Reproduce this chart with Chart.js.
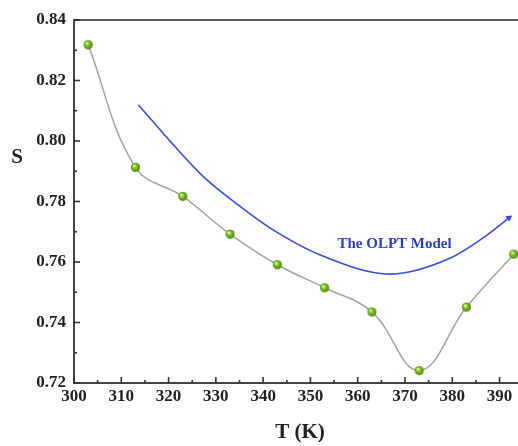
<!DOCTYPE html>
<html>
<head>
<meta charset="utf-8">
<script src="https://cdn.jsdelivr.net/npm/chart.js@4/dist/chart.umd.min.js"></script>
<style>
  html, body { margin: 0; padding: 0; background: #fff; overflow: hidden; }
  #wrap { width: 518px; height: 446px; }
</style>
</head>
<body>
<div id="wrap"><canvas id="s-chart"></canvas></div>
<script>
//measured S values vs temperature
const temps = [303, 313, 323, 333, 343, 353, 363, 373, 383, 393];
const sValues = [0.8318, 0.7913, 0.7817, 0.7692, 0.7591, 0.7515, 0.7435, 0.7241, 0.7451, 0.7626];

//the blue "OLPT Model" guide arrow
const modelT = [313.6, 320.4, 327.3, 334.5, 341.5, 352.1, 366.9, 379.6, 387.0, 392.0];
const modelS = [0.8120, 0.7998, 0.7883, 0.7791, 0.7712, 0.7623, 0.7560, 0.7613, 0.7685, 0.7746];
const modelLabel = 'The OLPT Model';
const modelLabelPos = [367.8, 0.7659];

//axes
const xMin = 300, xMax = 393.9;
const yMin = 0.72, yMax = 0.84;
const xTicks = [300, 305, 310, 315, 320, 325, 330, 335, 340, 345, 350, 355, 360, 365, 370, 375, 380, 385, 390];
const yTicks = [0.72, 0.73, 0.74, 0.75, 0.76, 0.77, 0.78, 0.79, 0.80, 0.81, 0.82, 0.83, 0.84];
const xTitle = 'T (K)';
const yTitle = 'S';

const serif = '"Liberation Serif", "Times New Roman", serif';

//green ball marker
function makeBall(r) {
  const c = document.createElement('canvas');
  c.width = r * 2 + 2;
  c.height = r * 2 + 2;
  const g = c.getContext('2d');
  const cx = r + 1, cy = r + 1;
  const grad = g.createRadialGradient(cx - r * 0.35, cy - r * 0.4, 0.3, cx, cy, r);
  grad.addColorStop(0, '#eaffc8');
  grad.addColorStop(0.35, '#8fd02c');
  grad.addColorStop(0.8, '#55a00c');
  grad.addColorStop(1, '#3d7d06');
  g.fillStyle = grad;
  g.beginPath();
  g.arc(cx, cy, r, 0, Math.PI * 2);
  g.fill();
  return c;
}
const ball = makeBall(4.5);

//inside ticks, top frame line and titles
const framePlugin = {
  id: 'frame',
  afterDraw(chart) {
    const ctx = chart.ctx;
    const area = chart.chartArea;
    const xs = chart.scales.x, ys = chart.scales.y;
    ctx.save();
    ctx.strokeStyle = '#555';
    ctx.lineWidth = 2;
    ctx.beginPath();
    ctx.moveTo(area.left - 1, area.top);
    ctx.lineTo(area.right + 2, area.top);
    ctx.stroke();

    ctx.strokeStyle = '#333';
    ctx.lineWidth = 1.6;
    xs.ticks.forEach((t) => {
      const px = xs.getPixelForValue(t.value);
      const len = Math.round(t.value) % 10 === 0 ? 6 : 3;
      ctx.beginPath();
      ctx.moveTo(px, area.bottom);
      ctx.lineTo(px, area.bottom - len);
      ctx.stroke();
    });
    ys.ticks.forEach((t) => {
      const py = ys.getPixelForValue(t.value);
      const len = Math.round(t.value * 100) % 2 === 0 ? 6 : 3;
      ctx.beginPath();
      ctx.moveTo(area.left, py);
      ctx.lineTo(area.left + len, py);
      ctx.stroke();
    });

    //model label
    ctx.fillStyle = '#2b3fc6';
    ctx.font = 'bold 15px ' + serif;
    ctx.textAlign = 'center';
    ctx.textBaseline = 'middle';
    ctx.fillText(modelLabel, xs.getPixelForValue(modelLabelPos[0]), ys.getPixelForValue(modelLabelPos[1]));

    //axis titles
    ctx.fillStyle = '#222';
    ctx.font = 'bold 21px ' + serif;
    ctx.fillText(yTitle, 17, 158);
    ctx.fillText(xTitle, 300, 433);
    ctx.restore();
  }
};

const ctxElem = document.getElementById('s-chart');
const s_chart = new Chart(ctxElem, {
  type: 'scatter',
  data: {
    datasets: [
      {
        label: 'S',
        data: temps.map((t, i) => ({ x: t, y: sValues[i] })),
        showLine: true,
        borderColor: '#a3a3a3',
        borderWidth: 1.5,
        tension: 0.4,
        pointStyle: ball,
        pointRadius: 4.5,
        clip: false
      },
      {
        label: modelLabel,
        data: modelT.map((t, i) => ({ x: t, y: modelS[i] })),
        showLine: true,
        borderColor: '#3a4ee0',
        backgroundColor: '#3a4ee0',
        borderWidth: 1.6,
        cubicInterpolationMode: 'monotone',
        pointStyle: 'triangle',
        rotation: 54,
        pointRadius: modelT.map((t, i) => (i === modelT.length - 1 ? 4 : 0)),
        pointBorderWidth: 0
      }
    ]
  },
  options: {
    responsive: true,
    maintainAspectRatio: false,
    animation: false,
    layout: { autoPadding: false, padding: { top: 20, right: 0, left: 0, bottom: 0 } },
    plugins: {
      legend: { display: false },
      tooltip: { enabled: false }
    },
    scales: {
      x: {
        type: 'linear',
        min: xMin,
        max: xMax,
        grid: { display: false, drawTicks: false },
        border: { display: true, color: '#444', width: 2 },
        afterBuildTicks: (scale) => {
          scale.ticks = xTicks.map((v) => ({ value: v }));
        },
        afterFit: (scale) => {
          scale.height = 63;
          scale.paddingLeft = 0;
          scale.paddingRight = 0;
        },
        ticks: {
          autoSkip: false,
          maxRotation: 0,
          padding: 3,
          color: '#222',
          font: { family: serif, size: 17, weight: 'bold' },
          callback: (v) => (Math.round(v) % 10 === 0 ? String(Math.round(v)) : '')
        }
      },
      y: {
        type: 'linear',
        min: yMin,
        max: yMax,
        grid: { display: false, drawTicks: false },
        border: { display: true, color: '#444', width: 2 },
        afterBuildTicks: (scale) => {
          scale.ticks = yTicks.map((v) => ({ value: v }));
        },
        afterFit: (scale) => {
          scale.width = 74;
          scale.paddingTop = 0;
          scale.paddingBottom = 0;
        },
        ticks: {
          autoSkip: false,
          padding: 8,
          color: '#222',
          font: { family: serif, size: 17, weight: 'bold' },
          callback: (v) => (Math.round(v * 100) % 2 === 0 ? v.toFixed(2) : '')
        }
      }
    }
  },
  plugins: [framePlugin]
});
</script>
</body>
</html>
